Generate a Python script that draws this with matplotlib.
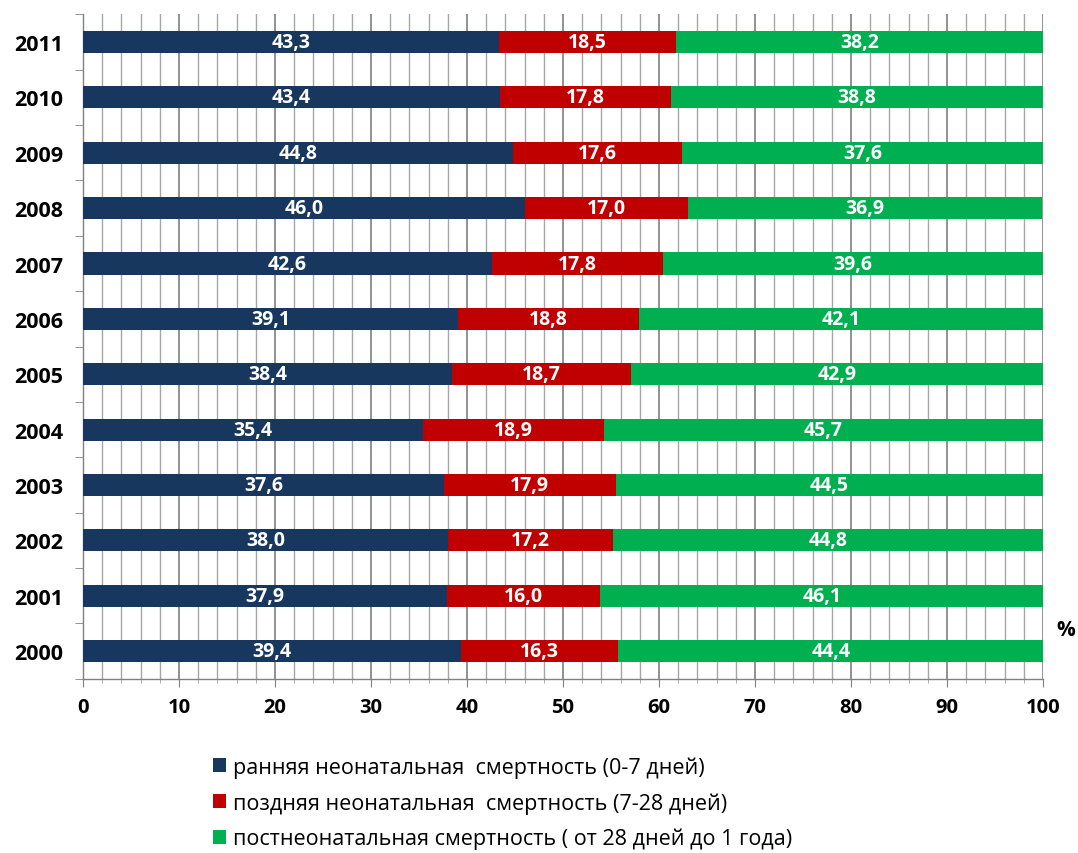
import matplotlib
matplotlib.use("Agg")
import matplotlib.pyplot as plt
import numpy as np
from matplotlib.patches import Patch

years = ["2000", "2001", "2002", "2003", "2004", "2005",
         "2006", "2007", "2008", "2009", "2010", "2011"]
early = [39.4, 37.9, 38.0, 37.6, 35.4, 38.4, 39.1, 42.6, 46.0, 44.8, 43.4, 43.3]
late = [16.3, 16.0, 17.2, 17.9, 18.9, 18.7, 18.8, 17.8, 17.0, 17.6, 17.8, 18.5]
post = [44.4, 46.1, 44.8, 44.5, 45.7, 42.9, 42.1, 39.6, 36.9, 37.6, 38.8, 38.2]

labels = ["ранняя неонатальная  смертность (0-7 дней)",
          "поздняя неонатальная  смертность (7-28 дней)",
          "постнеонатальная смертность ( от 28 дней до 1 года)"]
colors = ["#17375E", "#C00000", "#00B050"]

plt.rcParams["font.family"] = ["Open Sans", "DejaVu Sans"]

fig = plt.figure(figsize=(10.78, 8.54), dpi=100)
ax = fig.add_axes([0.077, 0.204, 0.8905, 0.778])

# stacked horizontal bars, one row per year, white value labels centred in each segment
y = np.arange(len(years))
left = np.zeros(len(years))
for vals, c in zip([early, late, post], colors):
    vals = np.array(vals)
    ax.barh(y, vals, left=left, height=0.4, color=c, zorder=3)
    for yi, l, v in zip(y, left, vals):
        ax.text(l + v / 2, yi, f"{v:.1f}".replace(".", ","), ha="center", va="center",
                color="white", fontsize=14, fontweight="bold", zorder=4)
    left = left + vals

ax.set_xlim(0, 100)
ax.set_ylim(-0.5, len(years) - 0.5)
ax.set_xticks(np.arange(0, 101, 10))
ax.set_xticks(np.arange(0, 101, 2), minor=True)
ax.set_yticks(y)
ax.set_yticklabels(years, fontsize=15.5, fontweight="bold")
ax.set_yticks(np.arange(-0.5, len(years), 1), minor=True)
ax.tick_params(axis="y", which="major", length=0, pad=14)
ax.tick_params(axis="y", which="minor", length=6, color="#808080", direction="out")
ax.tick_params(axis="x", which="major", labelsize=14.5, length=6, color="#808080", pad=7)
ax.tick_params(axis="x", which="minor", length=3, color="#A0A0A0")
for t in ax.get_xticklabels():
    t.set_fontweight("bold")

ax.grid(axis="x", which="major", color="#7F7F7F", linewidth=1.2, zorder=0)
ax.grid(axis="x", which="minor", color="#A6A6A6", linewidth=1.0, zorder=0)
for s in ["top", "right"]:
    ax.spines[s].set_visible(False)
for s in ["left", "bottom"]:
    ax.spines[s].set_color("#808080")
    ax.spines[s].set_linewidth(1.0)

fig.text(1066 / 1078, 1 - 630 / 854, "%", fontsize=15, fontweight="bold",
         ha="center", va="center")

handles = [Patch(facecolor=c) for c in colors]
fig.legend(handles, labels, loc="upper left", bbox_to_anchor=(194 / 1078, 1 - 738 / 854),
           frameon=False, fontsize=15.5, handlelength=0.6, handleheight=0.6,
           handletextpad=0.3, labelspacing=0.66)

fig.savefig("out.png", dpi=100, facecolor="white")
